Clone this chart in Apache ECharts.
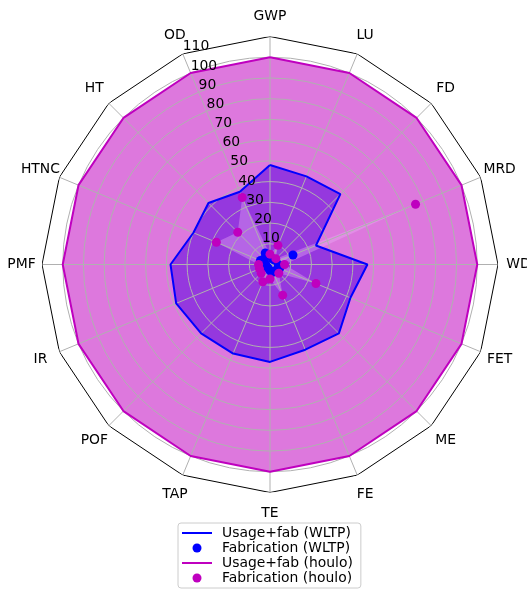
<!DOCTYPE html>
<html><head><meta charset="utf-8">
<script src="https://cdn.jsdelivr.net/npm/echarts@6/dist/echarts.min.js"></script>
<style>html,body{margin:0;padding:0;background:#fff}#c{width:527px;height:595px}</style>
</head><body><div id="c"></div>
<script>
// ---- data ----
const categories = ['GWP','LU','FD','MRD','WD','FET','ME','FE','TE','TAP','POF','IR','PMF','HTNC','HT','OD'];
const usageWLTP  = [48, 46, 48, 24, 47, 42, 47, 44.5, 47, 46.5, 47, 49, 48, 40, 42, 38];
const fabWLTP    = [4, 3, 3, 12, 4, 5, 4, 4, 3, 2, 2, 2, 2, 5, 4, 6];
const usageHoulo = [100,100,100,100,100,100,100,100,100,100,100,100,100,100,100,100];
const fabHoulo   = [5, 10, 4, 76, 7, 24, 6, 16, 7, 9, 6, 5.5, 5.5, 28, 22, 35];
const radiusMax = 110;        // outer frame / last tick label
const gridMax = 100;          // last grid circle
const tickStep = 10;
const seriesNames = ['Usage+fab (WLTP)', 'Fabrication (WLTP)', 'Usage+fab (houlo)', 'Fabrication (houlo)'];

// ---- layout/style ----
const FONT = 'DejaVu Sans';
const FS = 13.9;
const CX = 270, CY = 264.5, R = 228, R_LABEL = 248.5;
const n = categories.length;
const step = 360 / n;
const pts = (vals, close) => {
  const p = vals.map((v, i) => [v, i * step]);
  if (close) p.push([vals[0], 360]);
  return p;
};
const frameVals = categories.map(() => radiusMax);

const chart = echarts.init(document.getElementById('c'), null, {renderer: 'canvas'});
const BLUE = '#0000ff', MAG = '#bf00bf', GRID = '#b0b0b0';
const linePath = 'path://M0,0H30V2H0Z';

const fill = (name, vals, color, z) => ({
  name, type: 'line', coordinateSystem: 'polar', polarIndex: 0,
  data: pts(vals, true), symbol: 'none', silent: true, z,
  lineStyle: {width: 0, opacity: 0}, areaStyle: {color, opacity: 1}
});
const hiddenAxis = {axisLine: {show: false}, axisTick: {show: false}, axisLabel: {show: false}, splitLine: {show: false}};

chart.setOption({
  animation: false,
  textStyle: {fontFamily: FONT},
  polar: [
    {center: [CX, CY], radius: R},
    {center: [CX, CY], radius: R * gridMax / radiusMax},
    {center: [CX, CY], radius: R},
    {center: [CX, CY], radius: R_LABEL}
  ],
  angleAxis: [
    {polarIndex: 0, type: 'value', min: 0, max: 360, interval: step, startAngle: 90, clockwise: true, z: 2,
     axisLine: {show: false}, axisTick: {show: false}, axisLabel: {show: false},
     splitLine: {show: true, lineStyle: {color: GRID, width: 1}}},
    {polarIndex: 1, type: 'value', min: 0, max: 360, startAngle: 90, show: false},
    {polarIndex: 2, type: 'value', min: 0, max: 360, startAngle: 90 + step, show: false},
    Object.assign({polarIndex: 3, type: 'value', min: 0, max: 360, startAngle: 90, clockwise: true}, hiddenAxis)
  ],
  radiusAxis: [
    Object.assign({polarIndex: 0, type: 'value', min: 0, max: radiusMax, interval: tickStep}, hiddenAxis),
    {polarIndex: 1, type: 'value', min: 0, max: gridMax, interval: tickStep, z: 2,
     axisLine: {show: false}, axisTick: {show: false}, axisLabel: {show: false},
     splitLine: {show: true, lineStyle: {color: GRID, width: 1}}},
    {polarIndex: 2, type: 'value', min: 0, max: radiusMax, interval: tickStep, z: 6,
     axisLine: {show: false}, axisTick: {show: false}, splitLine: {show: false},
     axisLabel: {show: true, showMinLabel: false, margin: 0, align: 'left', verticalAlign: 'bottom',
       color: '#000', fontSize: FS, fontFamily: FONT}},
    Object.assign({polarIndex: 3, type: 'value', min: 0, max: 1}, hiddenAxis)
  ],
  legend: {
    orient: 'vertical', left: 178, top: 523,
    padding: [3, 8, 3, 4], itemGap: 1, itemWidth: 30, itemHeight: 9,
    borderColor: '#cccccc', borderWidth: 1, borderRadius: 3, backgroundColor: '#fff',
    textStyle: {fontSize: FS, color: '#000', fontFamily: FONT, padding: [0, 0, 0, 5]},
    itemStyle: {borderWidth: 0, opacity: 1},
    selectedMode: false,
    data: [
      {name: seriesNames[0], icon: linePath},
      {name: seriesNames[1], icon: 'circle'},
      {name: seriesNames[2], icon: linePath},
      {name: seriesNames[3], icon: 'circle'}
    ]
  },
  series: [
    fill('fill-houlo', usageHoulo, '#dd78dd', 1),
    fill('fill-wltp', usageWLTP, '#9538de', 1),
    fill('fill-fab-wltp', fabWLTP, 'rgba(205,190,250,0.35)', 1),
    fill('fill-fab-houlo', fabHoulo, 'rgba(235,175,245,0.38)', 1),
    {name: 'frame', type: 'line', coordinateSystem: 'polar', polarIndex: 0, data: pts(frameVals, true),
     symbol: 'none', silent: true, z: 3, lineStyle: {color: '#000', width: 1}},
    {name: seriesNames[0], type: 'line', coordinateSystem: 'polar', polarIndex: 0, data: pts(usageWLTP, true),
     symbol: 'none', z: 3, itemStyle: {color: BLUE}, lineStyle: {color: BLUE, width: 2}},
    {name: seriesNames[2], type: 'line', coordinateSystem: 'polar', polarIndex: 0, data: pts(usageHoulo, true),
     symbol: 'none', z: 3, itemStyle: {color: MAG}, lineStyle: {color: MAG, width: 2}},
    {name: seriesNames[1], type: 'scatter', coordinateSystem: 'polar', polarIndex: 0, data: pts(fabWLTP, false),
     symbol: 'circle', symbolSize: 9, z: 4, itemStyle: {color: BLUE, opacity: 1}},
    {name: seriesNames[3], type: 'scatter', coordinateSystem: 'polar', polarIndex: 0, data: pts(fabHoulo, false),
     symbol: 'circle', symbolSize: 9, z: 4, itemStyle: {color: MAG, opacity: 1}},
    {name: 'axis-names', type: 'scatter', coordinateSystem: 'polar', polarIndex: 3, silent: true, z: 6,
     data: categories.map((c, i) => ({name: c, value: [1, i * step]})),
     symbolSize: 1, itemStyle: {color: 'rgba(0,0,0,0)', opacity: 1},
     label: {show: true, position: 'inside', formatter: p => p.name, color: '#000', fontSize: FS,
       fontFamily: FONT, align: 'center', verticalAlign: 'middle'}}
  ]
});
</script></body></html>
